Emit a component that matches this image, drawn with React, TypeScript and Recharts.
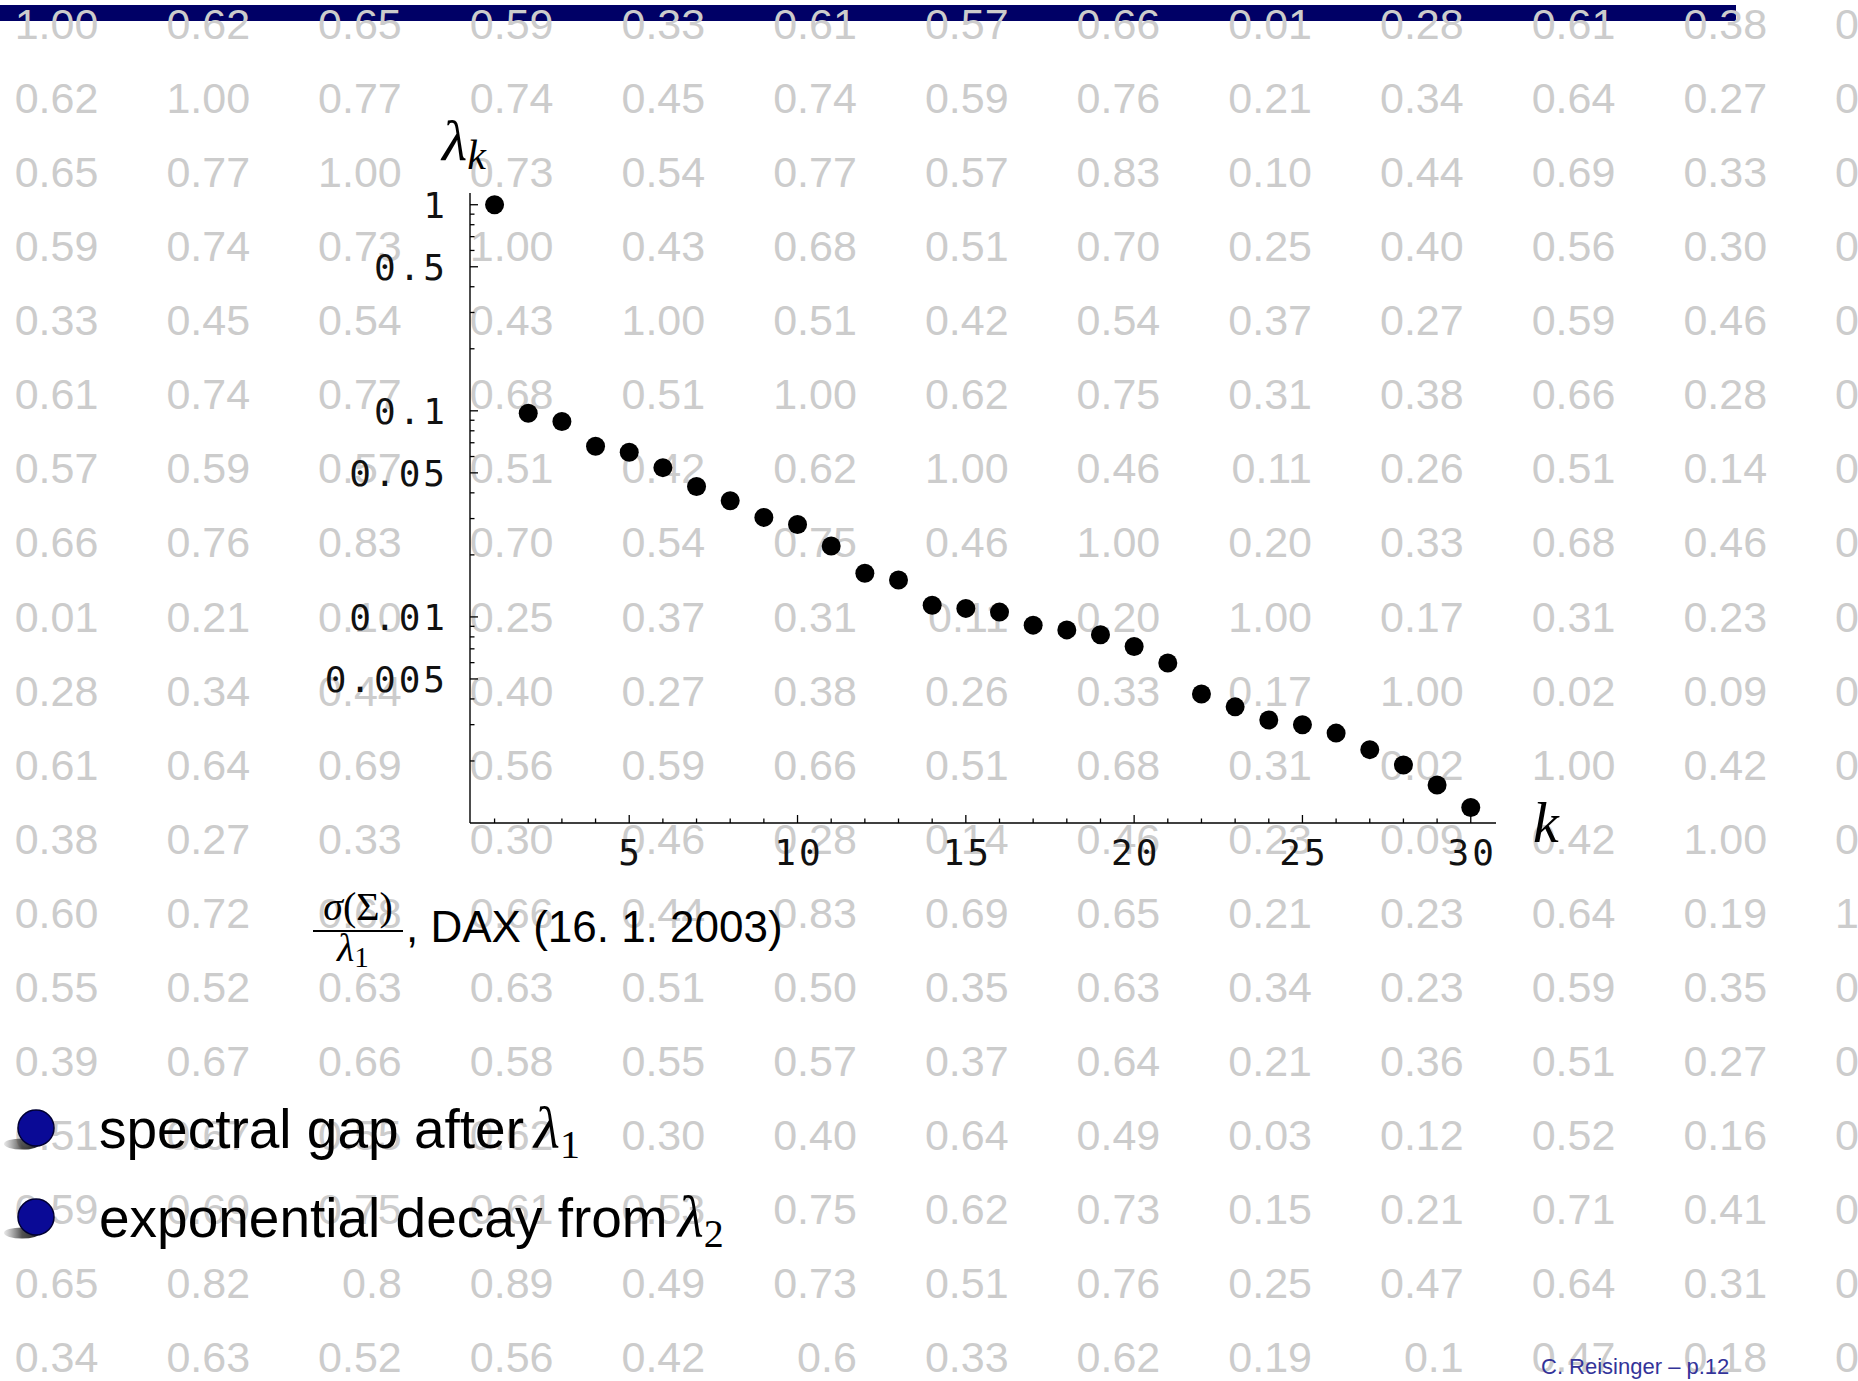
import React from "react";
import { ScatterChart, Scatter, XAxis, YAxis } from "recharts";

// ---- plotted data: eigenvalues of the DAX correlation matrix, normalised by lambda_1
const kIndex = [1, 2, 3, 4, 5, 6, 7, 8, 9, 10, 11, 12, 13, 14, 15, 16, 17, 18, 19, 20, 21, 22, 23, 24, 25, 26, 27, 28, 29, 30];
const lambdaValues = [
  1, 0.0974, 0.0888, 0.0673, 0.0629, 0.053, 0.0429, 0.0366, 0.0304, 0.0281,
  0.0221, 0.0163, 0.0151, 0.0114, 0.011, 0.01055, 0.00912, 0.00865, 0.0082, 0.00718,
  0.00597, 0.00423, 0.00366, 0.00316, 0.003, 0.00273, 0.00227, 0.00191, 0.00153, 0.00119,
];

// ---- axis ticks
const xTicks = [1, 2, 3, 4, 5, 6, 7, 8, 9, 10, 11, 12, 13, 14, 15, 16, 17, 18, 19, 20, 21, 22, 23, 24, 25, 26, 27, 28, 29, 30];
const xMajorTicks = [5, 10, 15, 20, 25, 30];
const yTicks = [
  1, 0.9, 0.8, 0.7, 0.6, 0.5, 0.4, 0.3, 0.2,
  0.1, 0.09, 0.08, 0.07, 0.06, 0.05, 0.04, 0.03, 0.02,
  0.01, 0.009, 0.008, 0.007, 0.006, 0.005, 0.004, 0.003, 0.002,
];
const yMajorTicks = [1, 0.5, 0.1, 0.05, 0.01, 0.005];
const yMajorLabels = ["1", "0.5", "0.1", "0.05", "0.01", "0.005"];

// ---- background correlation matrix (grey text)
const corrRow01 = ["1.00", "0.62", "0.65", "0.59", "0.33", "0.61", "0.57", "0.66", "0.01", "0.28", "0.61", "0.38", "0.00"];
const corrRow02 = ["0.62", "1.00", "0.77", "0.74", "0.45", "0.74", "0.59", "0.76", "0.21", "0.34", "0.64", "0.27", "0.00"];
const corrRow03 = ["0.65", "0.77", "1.00", "0.73", "0.54", "0.77", "0.57", "0.83", "0.10", "0.44", "0.69", "0.33", "0.00"];
const corrRow04 = ["0.59", "0.74", "0.73", "1.00", "0.43", "0.68", "0.51", "0.70", "0.25", "0.40", "0.56", "0.30", "0.00"];
const corrRow05 = ["0.33", "0.45", "0.54", "0.43", "1.00", "0.51", "0.42", "0.54", "0.37", "0.27", "0.59", "0.46", "0.00"];
const corrRow06 = ["0.61", "0.74", "0.77", "0.68", "0.51", "1.00", "0.62", "0.75", "0.31", "0.38", "0.66", "0.28", "0.00"];
const corrRow07 = ["0.57", "0.59", "0.57", "0.51", "0.42", "0.62", "1.00", "0.46", "0.11", "0.26", "0.51", "0.14", "0.00"];
const corrRow08 = ["0.66", "0.76", "0.83", "0.70", "0.54", "0.75", "0.46", "1.00", "0.20", "0.33", "0.68", "0.46", "0.00"];
const corrRow09 = ["0.01", "0.21", "0.10", "0.25", "0.37", "0.31", "0.11", "0.20", "1.00", "0.17", "0.31", "0.23", "0.00"];
const corrRow10 = ["0.28", "0.34", "0.44", "0.40", "0.27", "0.38", "0.26", "0.33", "0.17", "1.00", "0.02", "0.09", "0.00"];
const corrRow11 = ["0.61", "0.64", "0.69", "0.56", "0.59", "0.66", "0.51", "0.68", "0.31", "0.02", "1.00", "0.42", "0.00"];
const corrRow12 = ["0.38", "0.27", "0.33", "0.30", "0.46", "0.28", "0.14", "0.46", "0.23", "0.09", "0.42", "1.00", "0.00"];
const corrRow13 = ["0.60", "0.72", "0.68", "0.66", "0.44", "0.83", "0.69", "0.65", "0.21", "0.23", "0.64", "0.19", "1.00"];
const corrRow14 = ["0.55", "0.52", "0.63", "0.63", "0.51", "0.50", "0.35", "0.63", "0.34", "0.23", "0.59", "0.35", "0.00"];
const corrRow15 = ["0.39", "0.67", "0.66", "0.58", "0.55", "0.57", "0.37", "0.64", "0.21", "0.36", "0.51", "0.27", "0.00"];
const corrRow16 = ["0.51", "0.67", "0.55", "0.62", "0.30", "0.40", "0.64", "0.49", "0.03", "0.12", "0.52", "0.16", "0.00"];
const corrRow17 = ["0.59", "0.69", "0.75", "0.61", "0.53", "0.75", "0.62", "0.73", "0.15", "0.21", "0.71", "0.41", "0.00"];
const corrRow18 = ["0.65", "0.82", "0.8", "0.89", "0.49", "0.73", "0.51", "0.76", "0.25", "0.47", "0.64", "0.31", "0.00"];
const corrRow19 = ["0.34", "0.63", "0.52", "0.56", "0.42", "0.6", "0.33", "0.62", "0.19", "0.1", "0.47", "0.18", "0.00"];
const corrRows = [
  corrRow01, corrRow02, corrRow03, corrRow04, corrRow05, corrRow06, corrRow07, corrRow08, corrRow09, corrRow10,
  corrRow11, corrRow12, corrRow13, corrRow14, corrRow15, corrRow16, corrRow17, corrRow18, corrRow19,
];

// ---- texts
const captionText = ", DAX (16. 1. 2003)";
const bullet1Text = "spectral gap after";
const bullet2Text = "exponential decay from";
const footerText = "C. Reisinger \u2013 p.12";

const W = 1858;
const H = 1381;
const MONO = "'DejaVu Sans Mono', monospace";
const SANS = "'Liberation Sans', Arial, Helvetica, sans-serif";
const SERIF = "'Liberation Serif', 'Times New Roman', serif";

const data = kIndex.map((k, i) => ({ k, lambda: lambdaValues[i] }));

const YTick = (props: any) => {
  const { x, y, payload } = props;
  const idx = yMajorTicks.indexOf(payload.value);
  const major = idx >= 0;
  return (
    <g>
      <line x1={x} x2={x + (major ? 8 : 4.5)} y1={y} y2={y} stroke="#000" strokeWidth={1.3} />
      {major && (
        <text x={x - 22} y={y} dy="0.36em" textAnchor="end" fontFamily={MONO} fontSize={36} letterSpacing={3} fill="#111">
          {yMajorLabels[idx]}
        </text>
      )}
    </g>
  );
};

const XTick = (props: any) => {
  const { x, y, payload } = props;
  const major = xMajorTicks.indexOf(payload.value) >= 0;
  return (
    <g>
      <line x1={x} x2={x} y1={y} y2={y - (major ? 8 : 4.5)} stroke="#000" strokeWidth={1.3} />
      {major && (
        <text x={x + 1.5} y={y + 42} textAnchor="middle" fontFamily={MONO} fontSize={36} letterSpacing={3} fill="#111">
          {String(payload.value)}
        </text>
      )}
    </g>
  );
};

const DotShape = (props: any) => <circle cx={props.cx} cy={props.cy} r={9.5} fill="#000" />;

const Ball = ({ cx, cy }: { cx: number; cy: number }) => (
  <g>
    <ellipse cx={cx - 14} cy={cy + 16} rx={18} ry={5.5} fill="url(#shadowGrad)" />
    <circle cx={cx} cy={cy} r={18} fill="#0a0a96" stroke="#000033" strokeWidth={1.5} />
  </g>
);

export default function App() {
  return (
    <div style={{ position: "absolute", left: 0, top: 0, width: W, height: H, background: "#fff", overflow: "hidden" }}>
      {/* background layer */}
      <svg width={W} height={H} style={{ position: "absolute", left: 0, top: 0 }}>
        <rect x={0} y={5} width={1736} height={16} fill="#000066" />
        {corrRows.map((row, r) =>
          row.map((val, c) => (
            <text
              key={`${r}-${c}`}
              x={98.4 + 151.7 * c}
              y={39 + 74.07 * r}
              textAnchor="end"
              fontFamily={SANS}
              fontSize={43}
              fill="#cccccc"
            >
              {val}
            </text>
          ))
        )}
      </svg>

      {/* chart layer */}
      <div style={{ position: "absolute", left: 0, top: 0 }}>
        <ScatterChart width={W} height={H} margin={{ top: 193, right: 362, bottom: 498, left: 320 }}>
          <XAxis
            type="number"
            dataKey="k"
            domain={[0.27, 30.75]}
            allowDataOverflow
            ticks={xTicks}
            interval={0}
            tickSize={0}
            tickMargin={0}
            tickLine={false}
            axisLine={{ stroke: "#000", strokeWidth: 1.4 }}
            tick={XTick}
            height={60}
          />
          <YAxis
            type="number"
            dataKey="lambda"
            scale="log"
            domain={[0.001, 1.14]}
            allowDataOverflow
            ticks={yTicks}
            interval={0}
            tickSize={0}
            tickMargin={0}
            tickLine={false}
            axisLine={{ stroke: "#000", strokeWidth: 1.4 }}
            tick={YTick}
            width={150}
          />
          <Scatter data={data} isAnimationActive={false} shape={DotShape} />
        </ScatterChart>
      </div>

      {/* annotation layer */}
      <svg width={W} height={H} style={{ position: "absolute", left: 0, top: 0, pointerEvents: "none" }}>
        <defs>
          <linearGradient id="shadowGrad" x1="0" y1="0" x2="1" y2="0">
            <stop offset="0" stopColor="#666" stopOpacity={0.15} />
            <stop offset="0.5" stopColor="#333" stopOpacity={0.85} />
            <stop offset="1" stopColor="#222" stopOpacity={1} />
          </linearGradient>
        </defs>

        {/* y axis label lambda_k */}
        <text x={442} y={160} fontFamily={SERIF} fontStyle="italic" fontSize={58} fill="#000">
          λ
          <tspan fontSize={42} dy={9}>k</tspan>
        </text>

        {/* x axis label k */}
        <text x={1533} y={842} fontFamily={SERIF} fontStyle="italic" fontSize={58} fill="#000">
          k
        </text>

        {/* caption */}
        <text x={358} y={920} textAnchor="middle" fontFamily={SERIF} fontSize={40} fill="#000">
          <tspan fontStyle="italic">σ</tspan>(Σ)
        </text>
        <line x1={313} x2={403} y1={931} y2={931} stroke="#000" strokeWidth={2} />
        <text x={337} y={961} fontFamily={SERIF} fontSize={40} fill="#000">
          <tspan fontStyle="italic">λ</tspan>
          <tspan fontSize={29} dy={6}>1</tspan>
        </text>
        <text x={406} y={942} fontFamily={SANS} fontSize={44} fill="#000">
          {captionText}
        </text>

        {/* bullets */}
        <Ball cx={36} cy={1128} />
        <text x={99} y={1148} fontFamily={SANS} fontSize={55} fill="#000">
          {bullet1Text}
          <tspan fontFamily={SERIF} fontStyle="italic" fontSize={60} dx={10}>λ</tspan>
          <tspan fontFamily={SERIF} fontSize={40} dy={10}>1</tspan>
        </text>
        <Ball cx={36} cy={1217} />
        <text x={99} y={1237} fontFamily={SANS} fontSize={55} fill="#000">
          {bullet2Text}
          <tspan fontFamily={SERIF} fontStyle="italic" fontSize={60} dx={10}>λ</tspan>
          <tspan fontFamily={SERIF} fontSize={40} dy={10}>2</tspan>
        </text>

        {/* footer */}
        <text x={1541} y={1374} fontFamily={SANS} fontSize={22} fill="#333399">
          {footerText}
        </text>
      </svg>
    </div>
  );
}
